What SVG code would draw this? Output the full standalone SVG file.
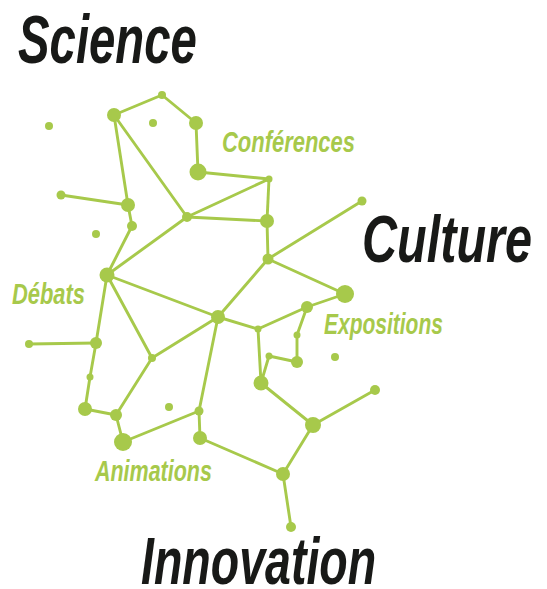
<svg xmlns="http://www.w3.org/2000/svg" width="547" height="589" viewBox="0 0 547 589">
<style>
.e{stroke:#a7c94b;stroke-width:2.9;fill:none;stroke-linecap:round}
.n{fill:#a7c94b}
.big{font-family:"Liberation Sans","DejaVu Sans",sans-serif;font-weight:bold;font-style:italic;fill:#181917}
.lab{font-family:"Liberation Sans","DejaVu Sans",sans-serif;font-weight:bold;font-style:italic;fill:#a7c94b}
</style>
<rect width="547" height="589" fill="#ffffff"/>
<g id="connectors">
<line class="e" x1="114" y1="115" x2="162" y2="95"/>
<line class="e" x1="162" y1="95" x2="196" y2="123"/>
<line class="e" x1="196" y1="123" x2="198" y2="172"/>
<line class="e" x1="198" y1="172" x2="269" y2="179"/>
<line class="e" x1="114" y1="115" x2="187" y2="217"/>
<line class="e" x1="114" y1="115" x2="128" y2="205"/>
<line class="e" x1="61" y1="195" x2="128" y2="205"/>
<line class="e" x1="128" y1="205" x2="132" y2="226"/>
<line class="e" x1="132" y1="226" x2="107" y2="275"/>
<line class="e" x1="269" y1="179" x2="187" y2="217"/>
<line class="e" x1="187" y1="217" x2="267" y2="221"/>
<line class="e" x1="269" y1="179" x2="267" y2="221"/>
<line class="e" x1="267" y1="221" x2="268" y2="259"/>
<line class="e" x1="187" y1="217" x2="107" y2="275"/>
<line class="e" x1="107" y1="275" x2="218" y2="317"/>
<line class="e" x1="268" y1="259" x2="218" y2="317"/>
<line class="e" x1="268" y1="259" x2="345" y2="294"/>
<line class="e" x1="268" y1="259" x2="362" y2="201"/>
<line class="e" x1="345" y1="294" x2="307" y2="307"/>
<line class="e" x1="307" y1="307" x2="258" y2="329"/>
<line class="e" x1="218" y1="317" x2="258" y2="329"/>
<line class="e" x1="307" y1="307" x2="297" y2="335"/>
<line class="e" x1="297" y1="335" x2="297" y2="362"/>
<line class="e" x1="297" y1="362" x2="269" y2="356"/>
<line class="e" x1="269" y1="356" x2="261" y2="383"/>
<line class="e" x1="258" y1="329" x2="261" y2="383"/>
<line class="e" x1="107" y1="275" x2="96" y2="343"/>
<line class="e" x1="107" y1="275" x2="152" y2="358"/>
<line class="e" x1="96" y1="343" x2="29" y2="344"/>
<line class="e" x1="96" y1="343" x2="90" y2="377"/>
<line class="e" x1="90" y1="377" x2="85" y2="409"/>
<line class="e" x1="85" y1="409" x2="116" y2="415"/>
<line class="e" x1="116" y1="415" x2="123" y2="442"/>
<line class="e" x1="152" y1="358" x2="116" y2="415"/>
<line class="e" x1="152" y1="358" x2="218" y2="317"/>
<line class="e" x1="218" y1="317" x2="199" y2="411"/>
<line class="e" x1="123" y1="442" x2="199" y2="411"/>
<line class="e" x1="199" y1="411" x2="200" y2="438"/>
<line class="e" x1="200" y1="438" x2="283" y2="474"/>
<line class="e" x1="261" y1="383" x2="313" y2="425"/>
<line class="e" x1="313" y1="425" x2="375" y2="390"/>
<line class="e" x1="313" y1="425" x2="283" y2="474"/>
<line class="e" x1="283" y1="474" x2="291" y2="527"/>
</g>
<g id="n-a"><circle class="n" cx="114" cy="115" r="7"/></g>
<g id="n-b"><circle class="n" cx="162" cy="95" r="4"/></g>
<g id="n-c"><circle class="n" cx="196" cy="123" r="7"/></g>
<g id="n-d"><circle class="n" cx="198" cy="172" r="8.5"/></g>
<g id="n-e"><circle class="n" cx="269" cy="179" r="3.5"/></g>
<g id="n-f"><circle class="n" cx="49" cy="126" r="4"/></g>
<g id="n-g"><circle class="n" cx="153" cy="123" r="4"/></g>
<g id="n-h"><circle class="n" cx="61" cy="195" r="4.5"/></g>
<g id="n-i"><circle class="n" cx="128" cy="205" r="7"/></g>
<g id="n-j"><circle class="n" cx="132" cy="226" r="5"/></g>
<g id="n-k"><circle class="n" cx="187" cy="217" r="5"/></g>
<g id="n-l"><circle class="n" cx="267" cy="221" r="7"/></g>
<g id="n-m"><circle class="n" cx="96" cy="234" r="4"/></g>
<g id="n-n"><circle class="n" cx="107" cy="275" r="7.5"/></g>
<g id="n-o"><circle class="n" cx="268" cy="259" r="5.5"/></g>
<g id="n-p"><circle class="n" cx="218" cy="317" r="7"/></g>
<g id="n-q"><circle class="n" cx="96" cy="343" r="6"/></g>
<g id="n-r"><circle class="n" cx="29" cy="344" r="4"/></g>
<g id="n-s"><circle class="n" cx="152" cy="358" r="4"/></g>
<g id="n-t"><circle class="n" cx="258" cy="329" r="3.5"/></g>
<g id="n-u"><circle class="n" cx="362" cy="201" r="4.5"/></g>
<g id="n-v"><circle class="n" cx="345" cy="294" r="9"/></g>
<g id="n-w"><circle class="n" cx="307" cy="307" r="6"/></g>
<g id="n-x"><circle class="n" cx="297" cy="335" r="3.5"/></g>
<g id="n-y"><circle class="n" cx="269" cy="356" r="3.5"/></g>
<g id="n-z"><circle class="n" cx="297" cy="362" r="6"/></g>
<g id="n-aa"><circle class="n" cx="261" cy="383" r="7.5"/></g>
<g id="n-ab"><circle class="n" cx="335" cy="357" r="4"/></g>
<g id="n-ac"><circle class="n" cx="90" cy="377" r="3.5"/></g>
<g id="n-ad"><circle class="n" cx="85" cy="409" r="7"/></g>
<g id="n-ae"><circle class="n" cx="116" cy="415" r="6"/></g>
<g id="n-af"><circle class="n" cx="123" cy="442" r="9"/></g>
<g id="n-ag"><circle class="n" cx="169" cy="407" r="4"/></g>
<g id="n-ah"><circle class="n" cx="199" cy="411" r="4.5"/></g>
<g id="n-ai"><circle class="n" cx="200" cy="438" r="7"/></g>
<g id="n-ak"><circle class="n" cx="313" cy="425" r="8"/></g>
<g id="n-al"><circle class="n" cx="375" cy="390" r="5"/></g>
<g id="n-am"><circle class="n" cx="283" cy="474" r="7"/></g>
<g id="n-an"><circle class="n" cx="291" cy="527" r="5"/></g>
<g id="titles">
<text class="big" transform="translate(18,63) scale(0.696,1)" font-size="68">Science</text>
<text class="big" transform="translate(362,262) scale(0.736,1)" font-size="66">Culture</text>
<text class="big" transform="translate(141,584) scale(0.705,1)" font-size="66">Innovation</text>
</g>
<g id="labels">
<text class="lab" transform="translate(222,152) scale(0.732,1)" font-size="30">Conférences</text>
<text class="lab" transform="translate(12,304) scale(0.73,1)" font-size="30">Débats</text>
<text class="lab" transform="translate(324,334) scale(0.724,1)" font-size="29">Expositions</text>
<text class="lab" transform="translate(95,481) scale(0.716,1)" font-size="30">Animations</text>
</g>
</svg>
